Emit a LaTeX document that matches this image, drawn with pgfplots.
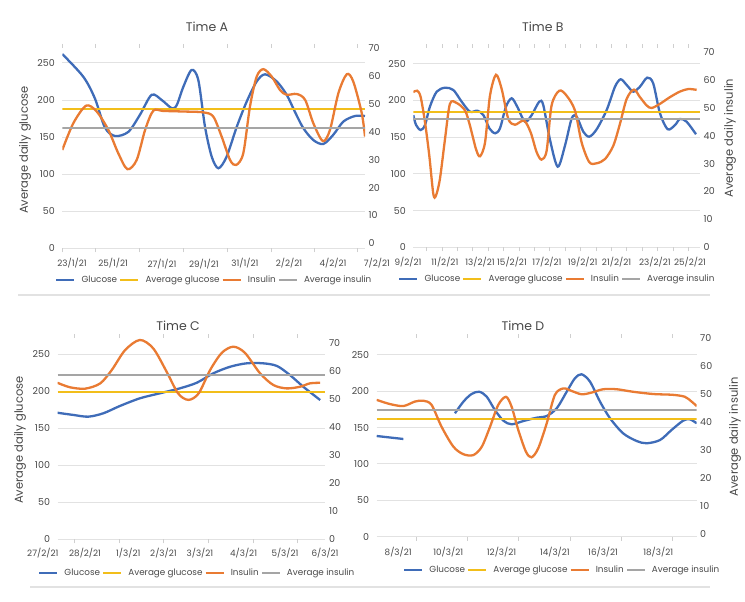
\documentclass[border=0pt]{standalone}
\usepackage{fontspec}
\setmainfont{Poppins}
\usepackage{pgfplots}
\pgfplotsset{compat=1.18}
\definecolor{cblue}{HTML}{3F6CB8}
\definecolor{corange}{HTML}{E97B33}
\definecolor{cyellow}{HTML}{F2BE1A}
\definecolor{cgrey}{HTML}{A5A5A5}
\definecolor{txt}{HTML}{484848}
\definecolor{gridc}{HTML}{E2E2E2}
\definecolor{tickc}{HTML}{CFCFCF}
\tikzset{xl/.style={font=\fontsize{8.8}{10}\selectfont, text=txt, anchor=center}}
\pgfplotsset{
  common/.style={scale only axis, anchor=south west, axis line style={draw=none}, clip mode=individual,
    tick label style={font=\fontsize{9.5}{10}\selectfont, text=txt},
    /pgf/number format/assume math mode=true,
    every axis title/.style={font=\fontsize{12.5}{14}\selectfont, text=txt, anchor=center},
    every axis y label/.style={font=\fontsize{11.5}{13}\selectfont, text=txt, anchor=center, rotate=90}},
  leftax/.style={common, ymin=0, ytick={0,50,...,250}, ymajorgrids,
    grid style={gridc, line width=1pt}, y tick style={draw=none},
    xticklabels={}, x tick style={tickc, line width=0.8pt}, tick align=outside, major tick length=4pt},
  rightax/.style={common, axis y line*=right, axis x line=none, ytick={0,10,...,70}, y tick style={draw=none},
    legend columns=4,
    legend style={draw=none, fill=none, font=\fontsize{8.8}{10}\selectfont, text=txt, inner sep=0pt,
      /tikz/every odd column/.append style={column sep=4pt}},
    legend image code/.code={\draw[##1] (0pt,0pt) -- (18pt,0pt);}},
  gl/.style={cblue, line width=2.3pt, smooth},
  ins/.style={corange, line width=2.3pt, smooth},
  ag/.style={cyellow, line width=2.2pt},
  ai/.style={cgrey, line width=2.2pt}
}
\begin{document}
\begin{tikzpicture}
\useasboundingbox (0,0) rectangle (745pt,-602pt);
% ================= Panel A =================
\begin{axis}[leftax, at={(62.3pt,-248.3pt)}, width=302.7pt, height=200.3pt,
  xmin=0, xmax=14, ymax=270.2, xtick={0,1.545,3.56,5.6,7.65,9.65,11.66,13.64},
  title={Time A}, title style={at={(axis description cs:0.478,1.105)}},
  ylabel={Average daily glucose}, ylabel style={at={(axis description cs:-0.123,0.49)}}]
\addplot[gl] coordinates {(0,262) (0.97,231.5) (1.51,202) (1.97,163) (2.44,151.5) (3.05,157) (3.59,180) (4.13,207) (4.6,200) (5.06,189) (5.29,193) (5.6,218) (5.98,240.5) (6.29,227) (6.6,164) (6.91,123.6) (7.22,108) (7.6,123.6) (8.07,164) (8.53,198) (8.99,225) (9.38,234.7) (9.92,225) (10.38,207) (10.76,184) (11.15,162) (11.61,146) (12.07,140.7) (12.53,153) (13.0,171) (13.54,178.5) (14.0,178.5)};
\addplot[ag] coordinates {(0,188) (14,188)};
\node[xl] at (axis cs:0.45,0) [yshift=-14.7pt] {23/1/21};
\node[xl] at (axis cs:2.35,0) [yshift=-14.7pt] {25/1/21};
\node[xl] at (axis cs:4.61,0) [yshift=-16pt] {27/1/21};
\node[xl] at (axis cs:6.55,0) [yshift=-16pt] {29/1/21};
\node[xl] at (axis cs:8.45,0) [yshift=-15pt] {31/1/21};
\node[xl] at (axis cs:10.49,0) [yshift=-15pt] {2/2/21};
\node[xl] at (axis cs:12.52,0) [yshift=-15pt] {4/2/21};
\node[xl] at (axis cs:14.55,0) [yshift=-14.7pt] {7/2/21};
\end{axis}
\begin{axis}[rightax, at={(62.3pt,-248.3pt)}, width=302.7pt, height=200.3pt,
  xmin=0, xmax=14, ymin=-1.8, ymax=70.1,
  legend style={at={(-0.024,-0.158)}, anchor=west}]
\addlegendimage{cblue, line width=2.3pt}\addlegendentry{Glucose}
\addlegendimage{cyellow, line width=2.3pt}\addlegendentry{Average glucose}
\addplot[ins] coordinates {(0,33.5) (0.51,43.1) (1.1,49.4) (1.59,47.3) (2.13,40.7) (2.59,32.3) (3.01,26.6) (3.44,29.9) (3.83,40.7) (4.21,47.6) (4.67,47.5) (5.6,47.3) (6.52,47.0) (6.98,45.5) (7.37,38.3) (7.76,29.9) (8.04,28.1) (8.37,32.3) (8.68,49.1) (8.99,59.8) (9.3,62.5) (9.69,59.8) (10.07,55.0) (10.38,53.3) (10.84,53.6) (11.23,51.5) (11.61,43.1) (12.05,36.7) (12.38,40.7) (12.77,53.9) (13.16,60.7) (13.46,58.0) (13.85,46.7) (14.0,38.3)};
\addlegendentry{Insulin}
\addplot[ai] coordinates {(0,41.3) (14,41.3)};
\addlegendentry{Average insulin}
\end{axis}
% ================= Panel B =================
\begin{axis}[leftax, at={(413.3pt,-247.3pt)}, width=286.7pt, height=199.3pt,
  xmin=0, xmax=18.62, ymax=271.5, xtick={0.86,1.86,...,17.86},
  title={Time B}, title style={at={(axis description cs:0.452,1.105)}}]
\addplot[gl] coordinates {(0,180) (0.18,166.6) (0.48,159.8) (0.76,166.6) (1.08,191.6) (1.52,212) (2.06,217.4) (2.6,214.3) (3.14,198.4) (3.68,184.7) (4.16,186.1) (4.55,180.2) (4.94,162.1) (5.31,155.3) (5.63,162.1) (6.02,191.6) (6.39,203) (6.75,191.6) (7.25,171.1) (7.69,180.2) (8.18,198.4) (8.44,193.9) (8.88,146.2) (9.38,109.8) (9.85,138.4) (10.29,175.7) (10.61,178) (11.04,157.5) (11.43,150.7) (11.91,160.8) (12.56,187.1) (13.1,218.8) (13.47,228.9) (13.86,221.1) (14.29,212) (14.72,218.8) (15.19,231.1) (15.58,223.4) (16.02,182.6) (16.52,160.8) (17.0,166.6) (17.32,174.8) (17.75,171.1) (18.36,154)};
\addplot[ag] coordinates {(0,184.7) (18.62,184.7)};
\node[xl] at (axis cs:-0.34,0) [yshift=-14.7pt] {9/2/21};
\node[xl] at (axis cs:2.05,0) [yshift=-14.7pt] {11/2/21};
\node[xl] at (axis cs:4.33,0) [yshift=-14.7pt] {13/2/21};
\node[xl] at (axis cs:6.41,0) [yshift=-14.7pt] {15/2/21};
\node[xl] at (axis cs:8.68,0) [yshift=-14.7pt] {17/2/21};
\node[xl] at (axis cs:11.0,0) [yshift=-14.7pt] {19/2/21};
\node[xl] at (axis cs:13.2,0) [yshift=-14.7pt] {21/2/21};
\node[xl] at (axis cs:15.69,0) [yshift=-14.7pt] {23/2/21};
\node[xl] at (axis cs:17.97,0) [yshift=-14.7pt] {25/2/21};
\end{axis}
\begin{axis}[rightax, at={(413.3pt,-247.3pt)}, width=286.7pt, height=199.3pt,
  xmin=0, xmax=18.62, ymin=0, ymax=71.4,
  ylabel={Average daily insulin}, ylabel style={at={(axis description cs:1.105,0.548)}},
  legend style={at={(-0.053,-0.159)}, anchor=west}]
\addlegendimage{cblue, line width=2.3pt}\addlegendentry{Glucose}
\addlegendimage{cyellow, line width=2.3pt}\addlegendentry{Average glucose}
\addplot[ins] coordinates {(0,55.6) (0.26,56.1) (0.48,53.8) (0.76,44.8) (1.04,32.8) (1.3,19.1) (1.47,18.5) (1.73,24.5) (2.06,38.8) (2.38,51.4) (2.82,51.7) (3.36,49.0) (3.68,43.6) (4.07,35.2) (4.33,32.6) (4.66,37.6) (4.98,54.3) (5.37,61.8) (5.74,56.7) (6.17,46.0) (6.6,43.9) (7.19,45.4) (7.62,41.2) (8.01,34.1) (8.33,31.4) (8.66,34.6) (8.98,50.8) (9.48,56.1) (9.96,54.3) (10.5,49.0) (10.93,37.6) (11.43,30.5) (11.91,30.1) (12.45,31.6) (12.99,36.4) (13.42,44.2) (13.86,53.2) (14.33,56.5) (14.72,53.8) (15.16,50.8) (15.48,49.9) (16.02,51.4) (16.67,53.8) (17.32,55.8) (17.86,56.7) (18.4,56.4)};
\addlegendentry{Insulin}
\addplot[ai] coordinates {(0,46.0) (18.62,46.0)};
\addlegendentry{Average insulin}
\end{axis}
% ================= Panel C =================
\begin{axis}[leftax, at={(57.5pt,-539.3pt)}, width=268pt, height=201.3pt,
  xmin=0, xmax=6.02, ymax=272, xtick={0.39,1.39,2.39,3.39,4.39,5.39},
  title={Time C}, title style={at={(axis description cs:0.45,1.06)}},
  ylabel={Average daily glucose}, ylabel style={at={(axis description cs:-0.14,0.493)}}]
\addplot[gl] coordinates {(0,171) (0.36,168) (0.69,165.7) (1.03,170.3) (1.4,180.1) (1.85,190.5) (2.3,197.3) (2.75,204) (3.13,211.6) (3.5,224.3) (3.88,233.2) (4.25,237.8) (4.62,237.8) (4.93,234.2) (5.22,222) (5.52,206.2) (5.9,188.2)};
\addplot[ag] coordinates {(0,198.6) (6.02,198.6)};
\node[xl] at (axis cs:-0.33,0) [yshift=-13.7pt] {27/2/21};
\node[xl] at (axis cs:0.62,0) [yshift=-13.7pt] {28/2/21};
\node[xl] at (axis cs:1.59,0) [yshift=-13.7pt] {1/3/21};
\node[xl] at (axis cs:2.38,0) [yshift=-13.7pt] {2/3/21};
\node[xl] at (axis cs:3.2,0) [yshift=-13.7pt] {3/3/21};
\node[xl] at (axis cs:4.18,0) [yshift=-13.7pt] {4/3/21};
\node[xl] at (axis cs:5.11,0) [yshift=-13.7pt] {5/3/21};
\node[xl] at (axis cs:6.01,0) [yshift=-13.7pt] {6/3/21};
\end{axis}
\begin{axis}[rightax, at={(57.5pt,-539.3pt)}, width=268pt, height=201.3pt,
  xmin=0, xmax=6.02, ymin=0, ymax=71.9,
  legend style={at={(-0.073,-0.167)}, anchor=west}]
\addlegendimage{cblue, line width=2.3pt}\addlegendentry{Glucose}
\addlegendimage{cyellow, line width=2.3pt}\addlegendentry{Average glucose}
\addplot[ins] coordinates {(0,55.9) (0.28,54.3) (0.62,53.8) (0.96,55.7) (1.22,60.5) (1.52,67.6) (1.85,71.2) (2.15,68.2) (2.45,59.9) (2.71,52.1) (2.94,49.8) (3.17,52.1) (3.43,60.5) (3.69,66.6) (3.95,68.8) (4.21,66.6) (4.55,59.3) (4.85,55.1) (5.15,53.9) (5.45,54.5) (5.67,55.7) (5.9,55.9)};
\addlegendentry{Insulin}
\addplot[ai] coordinates {(0,58.7) (6.02,58.7)};
\addlegendentry{Average insulin}
\end{axis}
% ================= Panel D =================
\begin{axis}[leftax, at={(376.7pt,-536.7pt)}, width=320pt, height=198.7pt,
  xmin=0, xmax=12.48, ymax=273.3, xtick={1.53,3.55,5.52,7.54,9.53,11.55},
  title={Time D}, title style={at={(axis description cs:0.457,1.06)}}]
\addplot[gl] coordinates {(0,138.5) (1.04,134.4)};
\addplot[gl] coordinates {(3.05,169.7) (3.38,185.7) (3.7,196.3) (4.0,199.4) (4.29,192.6) (4.61,174.3) (4.94,159.6) (5.26,154.6) (5.72,159.1) (6.24,163.7) (6.63,166) (7.02,176.6) (7.41,199.4) (7.73,217.9) (7.99,223.4) (8.32,213.2) (8.71,185.7) (9.1,162.9) (9.61,142.2) (10.14,131.6) (10.53,128.5) (11.05,133) (11.5,146.8) (11.95,159.6) (12.21,161.5) (12.48,156)};
\addplot[ag] coordinates {(0,161.5) (12.48,161.5)};
\node[xl] at (axis cs:0.84,0) [yshift=-15.3pt] {8/3/21};
\node[xl] at (axis cs:2.79,0) [yshift=-15.3pt] {10/3/21};
\node[xl] at (axis cs:4.87,0) [yshift=-15.3pt] {12/3/21};
\node[xl] at (axis cs:6.95,0) [yshift=-15.3pt] {14/3/21};
\node[xl] at (axis cs:8.83,0) [yshift=-15.3pt] {16/3/21};
\node[xl] at (axis cs:10.98,0) [yshift=-15.3pt] {18/3/21};
\end{axis}
\begin{axis}[rightax, at={(376.7pt,-536.7pt)}, width=320pt, height=198.7pt,
  xmin=0, xmax=12.48, ymin=-0.86, ymax=70.1,
  ylabel={Average daily insulin}, ylabel style={at={(axis description cs:1.12,0.502)}},
  legend style={at={(0.082,-0.168)}, anchor=west}]
\addlegendimage{cblue, line width=2.3pt}\addlegendentry{Glucose}
\addlegendimage{cyellow, line width=2.3pt}\addlegendentry{Average glucose}
\addplot[ins] coordinates {(0,48.0) (0.52,46.5) (1.04,45.8) (1.49,47.4) (1.82,47.7) (2.14,46.2) (2.53,38.4) (2.99,31.3) (3.38,28.6) (3.77,28.3) (4.1,31.3) (4.42,38.4) (4.74,46.2) (5.04,49.1) (5.26,45.6) (5.52,37.3) (5.82,29.5) (6.04,27.5) (6.3,30.7) (6.63,39.6) (6.95,49.8) (7.28,52.1) (7.6,51.2) (7.99,50.0) (8.38,50.6) (8.83,51.8) (9.36,51.8) (10.0,50.9) (10.78,50.1) (11.56,49.8) (12.02,49.1) (12.28,47.4) (12.48,45.8)};
\addlegendentry{Insulin}
\addplot[ai] coordinates {(0,44.4) (12.48,44.4)};
\addlegendentry{Average insulin}
\end{axis}
% separators
\draw[gridc, line width=1.2pt] (18pt,-295pt) -- (710pt,-295pt);
\draw[gridc, line width=1.2pt] (30pt,-587pt) -- (710pt,-587pt);
\end{tikzpicture}
\end{document}
